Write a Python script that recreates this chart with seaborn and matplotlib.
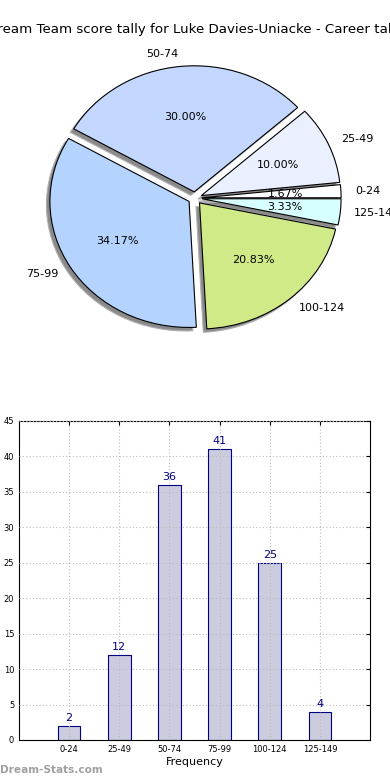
import matplotlib
matplotlib.use("Agg")
import matplotlib.pyplot as plt
import pandas as pd
import seaborn as sns

# score bands and how many games fell in each
bands = ["0-24", "25-49", "50-74", "75-99", "100-124", "125-149"]
counts = [2, 12, 36, 41, 25, 4]
slice_colors = ["#ffffff", "#eaf0ff", "#c4d8ff", "#b4d4ff", "#d0ea88", "#d8ffff"]

title = "Dream Team score tally for Luke Davies-Uniacke - Career tally"


def draw_pie(fig):
    ax = fig.add_axes([0.054, 0.544, 0.892, 0.404])
    ax.pie(counts, labels=bands, colors=slice_colors, autopct="%1.2f%%",
           explode=[0.05] * len(counts), startangle=0,
           shadow={"ox": -0.018, "oy": -0.02, "facecolor": "#8a8a8a",
                   "edgecolor": "#b0b0b0", "alpha": 1.0},
           wedgeprops={"edgecolor": "black", "linewidth": 0.8},
           textprops={"fontsize": 8, "color": "black"})
    ax.set_aspect("auto")
    ax.set_xlim(-1.25, 1.25)
    ax.set_ylim(-1.25, 1.25)
    return ax


def draw_bars(fig):
    df = pd.DataFrame({"band": bands, "count": counts})
    ax = fig.add_axes([0.0487, 0.0513, 0.9, 0.4090])
    sns.barplot(data=df, x="band", y="count", ax=ax, width=0.45,
                color="#ccccdf", saturation=1, edgecolor="navy", linewidth=0.8)
    for i, v in enumerate(counts):
        ax.text(i, v + 0.4, str(v), ha="center", va="bottom", color="navy", fontsize=8)
    ax.set_xlim(-1, 6)
    ax.set_ylim(0, 45)
    ax.set_yticks(range(0, 46, 5))
    ax.set_axisbelow(False)
    ax.grid(True, linestyle=(0, (1, 2)), color="#bbbbbb", linewidth=0.8)
    ax.tick_params(axis="both", labelsize=6, direction="in", top=True, right=True,
                   length=3, colors="black")
    for s in ax.spines.values():
        s.set_visible(True)
        s.set_color("black")
        s.set_linewidth(0.8)
    ax.set_xlabel("Frequency", fontsize=8, labelpad=2, color="black")
    ax.set_ylabel("")
    return ax


def main():
    sns.set_style("white")
    plt.rcParams["font.family"] = ["DejaVu Sans"]
    plt.rcParams["text.color"] = "black"
    fig = plt.figure(figsize=(3.9, 7.8), dpi=100)
    draw_pie(fig)
    draw_bars(fig)
    fig.text(0.5, 1 - 30 / 780, title, ha="center", va="center", fontsize=9.6, color="black")
    fig.text(0.0, 10 / 780, "Dream-Stats.com", ha="left", va="center",
             fontsize=7.6, color="#a0a0a0", fontweight="bold")
    fig.savefig("out.png", dpi=100)
    plt.close(fig)


if __name__ == "__main__":
    main()
